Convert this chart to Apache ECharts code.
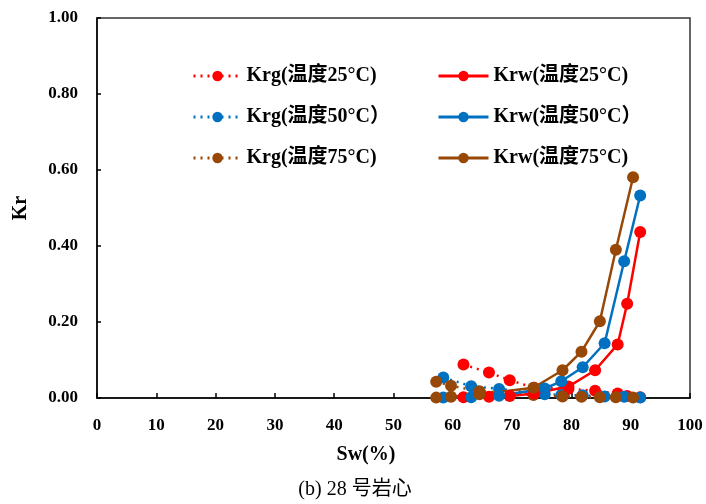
<!DOCTYPE html>
<html>
<head>
<meta charset="utf-8">
<script src="https://cdn.jsdelivr.net/npm/echarts@6/dist/echarts.min.js"></script>
<style>html,body{margin:0;padding:0;background:#fff;}#c{width:706px;height:504px;}</style>
</head>
<body>
<div id="c"></div>
<script>
var xTicks = [0,10,20,30,40,50,60,70,80,90,100];
var yTicks = [0,0.2,0.4,0.6,0.8,1.0];

var sw25 = [61.8, 66.1, 69.6, 73.7, 79.5, 84.0, 87.8, 89.4, 91.6];
var krg25 = [0.088, 0.067, 0.047, 0.027, 0.024, 0.019, 0.012, 0.005, 0.002];
var krw25 = [0.002, 0.003, 0.005, 0.012, 0.030, 0.073, 0.141, 0.248, 0.437];

var sw50 = [58.4, 63.1, 67.8, 75.5, 78.3, 81.9, 85.6, 88.9, 91.6];
var krg50 = [0.054, 0.031, 0.024, 0.010, 0.008, 0.007, 0.004, 0.003, 0.001];
var krw50 = [0.001, 0.002, 0.006, 0.025, 0.044, 0.081, 0.144, 0.360, 0.533];

var sw75 = [57.2, 59.7, 64.5, 73.6, 78.5, 81.7, 84.8, 87.5, 90.4];
var krg75 = [0.043, 0.032, 0.018, 0.008, 0.004, 0.003, 0.002, 0.002, 0.001];
var krw75 = [0.001, 0.003, 0.010, 0.027, 0.073, 0.122, 0.202, 0.390, 0.581];

var names = ['Krg(温度25°C)', 'Krw(温度25°C)', 'Krg(温度50°C）', 'Krw(温度50°C）', 'Krg(温度75°C)', 'Krw(温度75°C)'];
var colors = ['#FF0000', '#0070C0', '#974706'];

function pairs(x, y){ return x.map(function(v,i){ return [v, y[i]]; }); }

function mk(name, x, y, color, dotted){
  return {
    name: name, type: 'line', data: pairs(x, y),
    symbol: 'circle', symbolSize: 12, showSymbol: true,
    itemStyle: {color: color},
    lineStyle: {color: color, width: 2.5, type: dotted ? [2, 5] : 'solid'},
    z: dotted ? 2 : 3
  };
}

var series = [
  mk(names[0], sw25, krg25, colors[0], true),
  mk(names[1], sw25, krw25, colors[0], false),
  mk(names[2], sw50, krg50, colors[1], true),
  mk(names[3], sw50, krw50, colors[1], false),
  mk(names[4], sw75, krg75, colors[2], true),
  mk(names[5], sw75, krw75, colors[2], false)
];

var serif = '"Liberation Serif", "Times New Roman", "Noto Sans CJK SC", serif';
var legendText = {fontFamily: serif, fontWeight: 'bold', fontSize: 20, color: '#000'};

var chart = echarts.init(document.getElementById('c'), null, {renderer: 'canvas'});
chart.setOption({
  animation: false,
  backgroundColor: '#fff',
  grid: {left: 97, right: 16, top: 18, bottom: 106, show: true, borderColor: '#333', borderWidth: 1.5},
  legend: [
    {orient: 'vertical', left: 187, top: 61, itemWidth: 48, itemHeight: 13, itemGap: 21,
     lineStyle: {width: 3},
     data: [names[0], names[2], names[4]], textStyle: legendText},
    {orient: 'vertical', left: 432, top: 61, itemWidth: 50, itemHeight: 13, itemGap: 21,
     lineStyle: {width: 3},
     data: [names[1], names[3], names[5]], textStyle: legendText}
  ],
  xAxis: {
    type: 'value', min: xTicks[0], max: xTicks[xTicks.length-1], interval: 10,
    axisLine: {show: true, lineStyle: {color: '#000', width: 1.5}},
    axisTick: {show: true, inside: true, length: 5, lineStyle: {color: '#000', width: 1.5}},
    axisLabel: {fontFamily: serif, fontWeight: 'bold', fontSize: 17, color: '#000', margin: 19},
    splitLine: {show: false}
  },
  yAxis: {
    type: 'value', min: yTicks[0], max: yTicks[yTicks.length-1], interval: 0.2,
    name: 'Kr', nameLocation: 'middle', nameGap: 66, nameRotate: 90,
    nameTextStyle: {fontFamily: serif, fontWeight: 'bold', fontSize: 20, color: '#000'},
    axisLine: {show: true, lineStyle: {color: '#000', width: 1.5}},
    axisTick: {show: true, inside: true, length: 4, lineStyle: {color: '#000', width: 1.5}},
    axisLabel: {fontFamily: serif, fontWeight: 'bold', fontSize: 17, color: '#000', margin: 19,
      formatter: function(v){ return v.toFixed(2); }},
    splitLine: {show: false}
  },
  graphic: [
    {type: 'text', x: 366, y: 455,
     style: {text: 'Sw(%)', font: 'bold 20px ' + serif, fill: '#000', align: 'center', verticalAlign: 'middle'}},
    {type: 'text', x: 355, y: 490,
     style: {text: '(b) 28 号岩心', font: '20px ' + serif, fill: '#000', align: 'center', verticalAlign: 'middle'}}
  ],
  series: series
});
</script>
</body>
</html>
